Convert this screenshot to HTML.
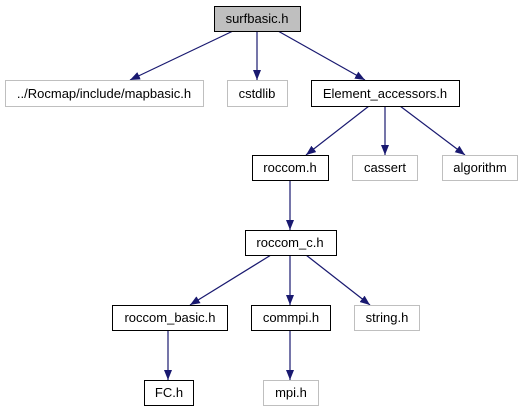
<!DOCTYPE html>
<html><head><style>body{margin:0;background:#fff}</style></head><body>
<svg width="523" height="411" xmlns="http://www.w3.org/2000/svg" font-family="Liberation Sans, sans-serif" font-size="13">
<defs><marker id="a" markerWidth="10" markerHeight="8" refX="10" refY="4" orient="auto" markerUnits="userSpaceOnUse"><path d="M0,0L10,4L0,8z" fill="#191970"/></marker></defs>
<g stroke="#191970" stroke-width="1.2" marker-end="url(#a)">
<line x1="233" y1="31" x2="130" y2="80"/>
<line x1="257" y1="31" x2="257" y2="80"/>
<line x1="278" y1="31" x2="365" y2="80"/>
<line x1="369" y1="106" x2="306" y2="155"/>
<line x1="385" y1="106" x2="385" y2="155"/>
<line x1="400" y1="106" x2="465" y2="155"/>
<line x1="290" y1="180" x2="290" y2="230"/>
<line x1="271" y1="255" x2="190" y2="305"/>
<line x1="290" y1="255" x2="290" y2="305"/>
<line x1="306" y1="255" x2="370" y2="305"/>
<line x1="168" y1="330" x2="168" y2="380"/>
<line x1="290" y1="330" x2="290" y2="380"/>
</g>
<g stroke-width="1">
<rect x="214.5" y="6.5" width="86" height="25" fill="#bfbfbf" stroke="#000"/>
<rect x="5.5" y="80.5" width="198" height="26" fill="#fff" stroke="#bfbfbf"/>
<rect x="227.5" y="80.5" width="60" height="26" fill="#fff" stroke="#bfbfbf"/>
<rect x="311.5" y="80.5" width="148" height="26" fill="#fff" stroke="#000"/>
<rect x="252.5" y="155.5" width="76" height="25" fill="#fff" stroke="#000"/>
<rect x="352.5" y="155.5" width="65" height="25" fill="#fff" stroke="#bfbfbf"/>
<rect x="442.5" y="155.5" width="75" height="25" fill="#fff" stroke="#bfbfbf"/>
<rect x="245.5" y="230.5" width="91" height="25" fill="#fff" stroke="#000"/>
<rect x="112.5" y="305.5" width="115" height="25" fill="#fff" stroke="#000"/>
<rect x="251.5" y="305.5" width="79" height="25" fill="#fff" stroke="#000"/>
<rect x="354.5" y="305.5" width="65" height="25" fill="#fff" stroke="#bfbfbf"/>
<rect x="144.5" y="380.5" width="49" height="25" fill="#fff" stroke="#000"/>
<rect x="263.5" y="380.5" width="55" height="25" fill="#fff" stroke="#bfbfbf"/>
</g>
<g text-anchor="middle" fill="#000">
<text x="257" y="23">surfbasic.h</text>
<text x="104" y="98">../Rocmap/include/mapbasic.h</text>
<text x="257" y="98">cstdlib</text>
<text x="385" y="98">Element_accessors.h</text>
<text x="290" y="172">roccom.h</text>
<text x="385" y="172">cassert</text>
<text x="480" y="172">algorithm</text>
<text x="290" y="247">roccom_c.h</text>
<text x="170" y="322">roccom_basic.h</text>
<text x="291" y="322">commpi.h</text>
<text x="387" y="322">string.h</text>
<text x="169" y="397">FC.h</text>
<text x="291" y="397">mpi.h</text>
</g>
</svg>
</body></html>
